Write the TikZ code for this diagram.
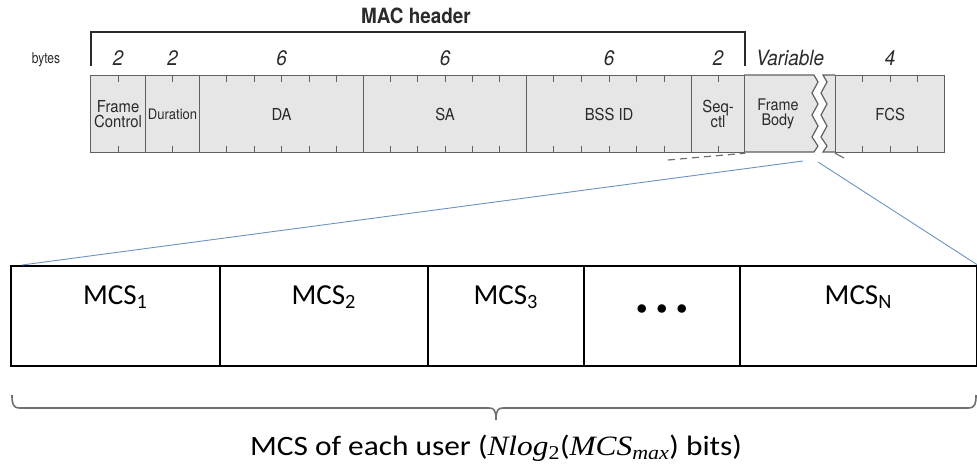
\RequirePackage{fix-cm}
\documentclass[tikz,border=0pt]{standalone}
\usepackage{fontspec}
\setmainfont{Carlito}
\newfontfamily\cond[FakeStretch=0.9]{TeX Gyre Heros}
\newfontfamily\condn[FakeStretch=0.8]{TeX Gyre Heros}
\newfontfamily\smath{Liberation Serif}
\usetikzlibrary{calc}
\definecolor{ffill}{HTML}{E6E6E6}
\definecolor{fline}{HTML}{606060}
\definecolor{tgray}{HTML}{2A2A2A}
\definecolor{zblue}{HTML}{6A93C0}
\definecolor{bgray}{HTML}{707070}
\tikzset{
  field/.style={draw=fline, fill=ffill, line width=1.2pt, minimum height=77pt,
    inner sep=0pt, anchor=north west, align=center, text=tgray,
    font=\cond\fontsize{16.5}{16.5}\selectfont},
  tickline/.style={draw=fline, line width=1pt},
  bytenum/.style={text=tgray, inner sep=0pt, font=\cond\itshape\fontsize{21}{21}\selectfont},
  cell/.style={draw=black, line width=1.6pt, minimum height=100pt, inner sep=0pt, anchor=north west},
  celllab/.style={inner sep=0pt, font=\fontsize{29}{29}\selectfont},
  zoomline/.style={draw=zblue, line width=0.9pt},
  brk/.style={draw=fline, line width=1.2pt}
}
\begin{document}
\begin{tikzpicture}[x=1pt,y=-1pt]
\useasboundingbox (0,0) rectangle (977,472);
% MAC header bracket
\node[inner sep=0pt, text=tgray, font=\cond\bfseries\fontsize{21}{21}\selectfont] (mac) at (416,16) {MAC header};
\coordinate (bl) at (91,66);
\coordinate (br) at (745,66);
\draw[draw=tgray, line width=1.3pt] (bl) |- (416,32) -| (br);
% byte label
\node[inner sep=0pt, text=tgray, font=\condn\fontsize{15}{15}\selectfont] (bytes) at (46,60) {bytes};
% frame body with broken edge
\fill[ffill] (744,75) -- (814,75) -- (818,82) -- (812,93) -- (818,104) -- (812,115) -- (818,126) -- (812,137) -- (818,146) -- (814,152) -- (744,152) -- cycle;
\draw[brk] (744,75) -- (814,75) -- (818,82) -- (812,93) -- (818,104) -- (812,115) -- (818,126) -- (812,137) -- (818,146) -- (814,152) -- (744,152);
\fill[ffill] (835,75) -- (823,75) -- (827,82) -- (821,93) -- (827,104) -- (821,115) -- (827,126) -- (821,137) -- (827,146) -- (823,152) -- (835,152) -- cycle;
\draw[brk] (835,75) -- (823,75) -- (827,82) -- (821,93) -- (827,104) -- (821,115) -- (827,126) -- (821,137) -- (827,146) -- (823,152) -- (835,152);
% fields
\node[field, minimum width=55pt] (fc) at (90,75) {Frame\\[-1pt]Control};
\node[field, minimum width=54pt, font=\cond\fontsize{14.5}{14.5}\selectfont] (dur) at (145,75) {Duration};
\node[field, minimum width=164pt] (da) at (199,75) {DA};
\node[field, minimum width=163pt] (sa) at (363,75) {SA};
\node[field, minimum width=165pt] (bss) at (526,75) {BSS ID};
\node[field, minimum width=53pt] (seq) at (691,75) {Seq-\\[-1pt]ctl};
\node[field, minimum width=109pt] (fcs) at (835,75) {FCS};
\node[inner sep=0pt, align=center, text=tgray, font=\cond\fontsize{16}{16}\selectfont] (fb) at (778,114) {Frame\\[-1pt]Body};
% ticks
\foreach \f/\n in {fc/2, dur/2, da/6, sa/6, bss/6, seq/2, fcs/4}{
  \pgfmathtruncatemacro{\m}{\n-1}
  \foreach \i in {1,...,\m}{
    \draw[tickline] ($(\f.north west)!\i/\n!(\f.north east)$) -- ++(0,7);
    \draw[tickline] ($(\f.south west)!\i/\n!(\f.south east)$) -- ++(0,-7);
  }
}
% byte counts
\node[bytenum] (n1) at (fc.center |- 0,58) {2};
\node[bytenum] (n2) at (dur.center |- 0,58) {2};
\node[bytenum] (n3) at (da.center |- 0,58) {6};
\node[bytenum] (n4) at (sa.center |- 0,58) {6};
\node[bytenum] (n5) at (bss.center |- 0,58) {6};
\node[bytenum] (n6) at (seq.center |- 0,58) {2};
\node[bytenum] (n7) at (790,58) {Variable};
\node[bytenum] (n8) at (fcs.center |- 0,58) {4};
% remnants of original zoom lines
\coordinate (dsh) at (668,160);
\draw[draw=bgray, line width=1.2pt, dashed, dash pattern=on 7pt off 5pt] (dsh) -- (seq.south east);
\coordinate (rs) at (844,158);
\draw[draw=bgray, line width=1.2pt] (fcs.south west) -- (rs);
% MCS cells
\node[cell, minimum width=209pt] (c1) at (10,265) {};
\node[cell, minimum width=208pt] (c2) at (219,265) {};
\node[cell, minimum width=156pt] (c3) at (427,265) {};
\node[cell, minimum width=156pt] (c4) at (583,265) {};
\node[cell, minimum width=237pt] (c5) at (739,265) {};
\node[celllab] (l1) at (c1.center |- 0,297) {MCS\textsubscript{1}};
\node[celllab] (l2) at (c2.center |- 0,297) {MCS\textsubscript{2}};
\node[celllab] (l3) at (c3.center |- 0,297) {MCS\textsubscript{3}};
\node[inner sep=0pt, font=\fontsize{22}{22}\selectfont] (l4) at (c4.center |- 0,310) {$\bullet$\hspace{9pt}$\bullet$\hspace{9pt}$\bullet$};
\node[celllab] (l5) at (c5.center |- 0,297) {MCS\textsubscript{N}};
% zoom lines
\coordinate (zl) at (803,161);
\coordinate (zr) at (818,162);
\draw[zoomline] (zl) -- ($(c1.north west)+(12,0)$);
\draw[zoomline] (zr) -- (c5.north east);
% brace
\draw[draw=bgray, line width=1.6pt] (12,395) .. controls (12,404) and (13,408) .. (20,408) -- (489,408) .. controls (494,408) and (496,410) .. (496,420) .. controls (496,410) and (498,408) .. (503,408) -- (968,408) .. controls (975,408) and (976,404) .. (976,395);
\node[inner sep=0pt, font=\fontsize{28}{28}\selectfont] (cap) at (496,448) {\scalebox{1.12}[1]{MCS of each user ({\smath\itshape Nlog}\textsubscript{\smath 2}({\smath\itshape MCS}\textsubscript{\smath\itshape max}) bits)}};
\end{tikzpicture}
\end{document}
